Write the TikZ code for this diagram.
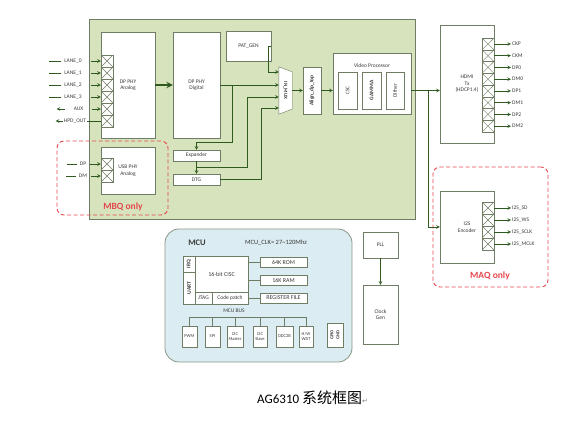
\documentclass[tikz,border=0pt]{standalone}
\usepackage{fontspec}
\setmainfont{Carlito}
\newfontfamily\cjk{Noto Sans CJK SC}
\newfontfamily\symfont{DejaVu Sans}
\definecolor{chipgreen}{HTML}{D7E3BD}
\definecolor{linegreen}{HTML}{2F5A1F}
\definecolor{boxgray}{HTML}{6E7D63}
\definecolor{mcublue}{HTML}{DBECF2}
\definecolor{onlyred}{HTML}{E4474C}
\definecolor{txt}{HTML}{3A3A3A}

\begin{document}
\begin{tikzpicture}[x=1pt, y=-1pt, >=stealth,
		blk/.style={draw=boxgray, fill=white, rectangle, inner sep=0pt, align=center, text=txt, font=\fontsize{5.5}{6.5}\selectfont},
		xcell/.style={draw=boxgray, fill=white, minimum width=12pt, minimum height=12pt, inner sep=0pt, path picture={\draw[boxgray] (path picture bounding box.north west) -- (path picture bounding box.south east) (path picture bounding box.south west) -- (path picture bounding box.north east);}},
		pin/.style={inner sep=1pt, text=txt, font=\fontsize{5.5}{6}\selectfont},
		arr/.style={->, draw=linegreen, line width=0.6pt},
		wire/.style={draw=boxgray, line width=0.6pt},
		only/.style={draw=onlyred, line width=0.9pt, rounded corners=7pt, dash pattern=on 4pt off 2.5pt},
		onlytxt/.style={text=onlyred, font=\bfseries\fontsize{9.5}{10}\selectfont}]
	\useasboundingbox (0,0) rectangle (583,427);
	\node[draw=boxgray, fill=chipgreen, line width=0.7pt, minimum width=326pt, minimum height=200pt] (chip) at (252,119) {};
	\node[only, minimum width=111pt, minimum height=74pt] (mbq) at (112.5,178) {};
	\node[onlytxt] (mbqt) at (123,207) {MBQ only};
	\node[only, minimum width=115pt, minimum height=120pt] (maq) at (490.5,227) {};
	\node[onlytxt] (maqt) at (490,276) {MAQ only};

	\node[blk, minimum width=54pt, minimum height=106pt] (dpa) at (128,85) {DP PHY\\Analog};
	\node[blk, minimum width=47pt, minimum height=106pt] (dpd) at (196.5,85) {DP PHY\\Digital};
	\node[blk, minimum width=54pt, minimum height=47pt] (usb) at (128,170.5) {USB PHY\\Analog};
	\node[blk, minimum width=45pt, minimum height=30pt] (patgen) at (248.5,46) {PAT\_GEN};
	\node[blk, minimum width=47pt, minimum height=11pt] (exp) at (196.5,155.5) {Expander};
	\node[blk, minimum width=47pt, minimum height=11pt] (dtg) at (196.5,179.5) {DTG};
	\node[minimum width=13pt, minimum height=47pt, inner sep=0pt] (mux) at (285.5,90.5) {};
	\draw[draw=boxgray, fill=white] (mux.north west) -- ([yshift=-5]mux.north east) -- ([yshift=5]mux.south east) -- (mux.south west) -- cycle;
	\node[text=txt, font=\bfseries\fontsize{5}{5}\selectfont] (muxt) at (mux) {\rotatebox{-90}{IN\_MUX}};
	\node[blk, minimum width=18pt, minimum height=47pt] (align) at (312,90.5) {\rotatebox{90}{\bfseries Align\_dp\_top}};
	\node[blk, minimum width=78pt, minimum height=61pt] (vp) at (372,83.5) {};
	\node[pin] (vpt) at (372,65.5) {Video Processor};
	\node[blk, minimum width=19pt, minimum height=37pt] (csc) at (347.5,90.5) {\rotatebox{90}{CSC}};
	\node[blk, minimum width=19pt, minimum height=37pt] (gamma) at (371.5,90.5) {\rotatebox{90}{\bfseries GAMMA}};
	\node[blk, minimum width=18pt, minimum height=37pt] (dither) at (395,90.5) {\rotatebox{90}{Dither}};
	\node[blk, minimum width=54pt, minimum height=118pt] (hdmi) at (467,84) {HDMI\\Tx\\(HDCP1.4)};
	\node[blk, minimum width=54pt, minimum height=72pt] (i2s) at (467,227) {I2S\\Encoder};

	\foreach \i in {0,...,5}
		\node[xcell] (dc\i) at (107,61+12*\i) {};
	\foreach \n [count=\i from 0] in {LANE\_0,LANE\_1,LANE\_2,LANE\_3} {
		\node[pin] (dl\i) at (73,61+12*\i) {\n};
		\draw[arr] ([xshift=8]dl\i.east) -- (dc\i);
		\draw[linegreen, line width=0.6pt] ([xshift=-2]dl\i.west) -- ++(-12,0);
	}
	\node[pin] (aux) at (78.5,109) {AUX};
	\draw[arr] ([xshift=8]aux.east) -- (dc4);
	\draw[arr] ([xshift=-8]aux.west) -- ++(-8,0);
	\node[pin] (hpd) at (75,121) {HPD\_OUT};
	\draw[linegreen, line width=0.6pt] (hpd.east) -- (dc5);
	\draw[arr] (hpd.west) -- ++(-7,0);
	\foreach \n [count=\i from 0] in {DP,DM} {
		\node[xcell] (uc\i) at (107,164+12*\i) {};
		\node[pin] (ul\i) at (83,164+12*\i) {\n};
		\draw[arr] ([xshift=3]ul\i.east) -- (uc\i);
		\draw[linegreen, line width=0.6pt] ([xshift=-2]ul\i.west) -- ++(-10,0);
	}
	\foreach \n [count=\i from 0] in {CKP,CKM,DP0,DM0,DP1,DM1,DP2,DM2} {
		\node[xcell, minimum height=11.75pt] (hc\i) at (488,43.9+11.75*\i) {};
		\node[pin, anchor=west] (ho\i) at (511,43.9+11.75*\i) {\n};
		\draw[arr] (hc\i) -- (ho\i);
	}
	\foreach \n [count=\i from 0] in {I2S\_SD,I2S\_WS,I2S\_SCLK,I2S\_MCLK} {
		\node[xcell] (ic\i) at (488,208+12*\i) {};
		\node[pin, anchor=west] (io\i) at (511,208+12*\i) {\n};
		\draw[arr] (ic\i) -- (io\i);
	}

	\draw[arr, line width=1.8pt] (dpa) -- (dpd);
	\draw[arr] (dpd.east) -- (mux.west |- dpd.east);
	\draw[arr] ([xshift=12]dpd.east) |- ([yshift=7]exp.north) -- (exp.north);
	\draw[arr] (exp) -- (dtg);
	\draw[arr] ([yshift=-6]exp.south) -| (247,97) -- (mux.west |- 0,97);
	\draw[arr] (dtg.east) -| (261,108) -- (mux.west |- 0,108);
	\draw[arr] (patgen.east) -| (268,72) -- (mux.west |- 0,72);
	\draw[arr] (mux.east) -- (align.west);
	\draw[arr] (align.east) -- (vp.west |- align.east);
	\draw[arr] (vp.east |- align.east) -- (hdmi.west |- align.east);
	\draw[arr] ([xshift=-12]hdmi.west |- align.east) |- (i2s.west);

	\node[draw=boxgray!80, fill=mcublue, line width=0.8pt, rounded corners=14pt, minimum width=187pt, minimum height=133pt] (mcu) at (258.5,295.5) {};
	\node[text=txt, font=\bfseries\fontsize{8.5}{9}\selectfont] (mcut) at (197,243) {MCU};
	\node[pin, font=\fontsize{6.5}{7}\selectfont] (clkt) at (276,243) {MCU\_CLK= 27\textasciitilde120Mhz};
	\node[blk, minimum width=12pt, minimum height=16pt] (irq) at (189,264) {\rotatebox{90}{\bfseries IRQ}};
	\node[blk, minimum width=12pt, minimum height=32pt] (uart) at (189,288) {\rotatebox{90}{\bfseries UART}};
	\node[blk, minimum width=53pt, minimum height=36pt, font=\fontsize{6}{7}\selectfont] (cisc) at (221.5,274) {16-bit CISC};
	\node[blk, minimum width=17pt, minimum height=12pt] (jtag) at (203.5,298) {JTAG};
	\node[blk, minimum width=36pt, minimum height=12pt] (cpatch) at (230,298) {Code patch};
	\node[blk, minimum width=47pt, minimum height=10pt, font=\fontsize{6}{7}\selectfont] (rom) at (283.5,262) {64K ROM};
	\node[blk, minimum width=47pt, minimum height=10pt, font=\fontsize{6}{7}\selectfont] (ram) at (283.5,280) {16K RAM};
	\node[blk, minimum width=47pt, minimum height=10pt, font=\fontsize{6}{7}\selectfont] (regf) at (283.5,298) {REGISTER FILE};
	\draw[wire] (rom.west -| cisc.east) -- (rom.west);
	\draw[wire] (ram.west -| cisc.east) -- (ram.west);
	\draw[wire] (cpatch) -- (regf);
	\node[pin] (bust) at (234,311) {MCU BUS};
	\foreach \n/\x/\w/\t in {pwm/189.5/15/PWM, spi/212.5/15/SPI, i2cm/235/16/{I2C\\Master}, i2cs/260/14/{I2C\\Slave}, ddc/284.5/17/DDC2B, wdt/306/14/{H/W\\WDT}}
		\node[blk, minimum width=\w pt, minimum height=21pt, font=\fontsize{4.5}{5}\selectfont] (\n) at (\x,336.5) {\t};
	\draw[wire] (pwm.north) -- ++(0,-9) -| (wdt.north);
	\foreach \n in {spi,i2cm,i2cs,ddc}
		\draw[wire] (\n.north) -- ++(0,-9);
	\node[blk, minimum width=16pt, minimum height=24pt, font=\bfseries\fontsize{4.5}{5}\selectfont] (gpio) at (335,335) {\rotatebox{90}{\shortstack{GPIO\\GND}}};

	\node[blk, minimum width=35pt, minimum height=26pt] (pll) at (380.5,245) {PLL};
	\node[blk, minimum width=35pt, minimum height=59pt] (clk) at (380.5,314.5) {Clock\\Gen};
	\draw[arr] (pll) -- (clk);

	\node[anchor=west, inner sep=0pt, font=\fontsize{13}{15}\selectfont] (cap) at (257,398) {AG6310 {\cjk\fontsize{15}{15}\selectfont 系统框图}{\symfont\fontsize{7}{7}\selectfont\color{gray}↵}};
\end{tikzpicture}
\end{document}
